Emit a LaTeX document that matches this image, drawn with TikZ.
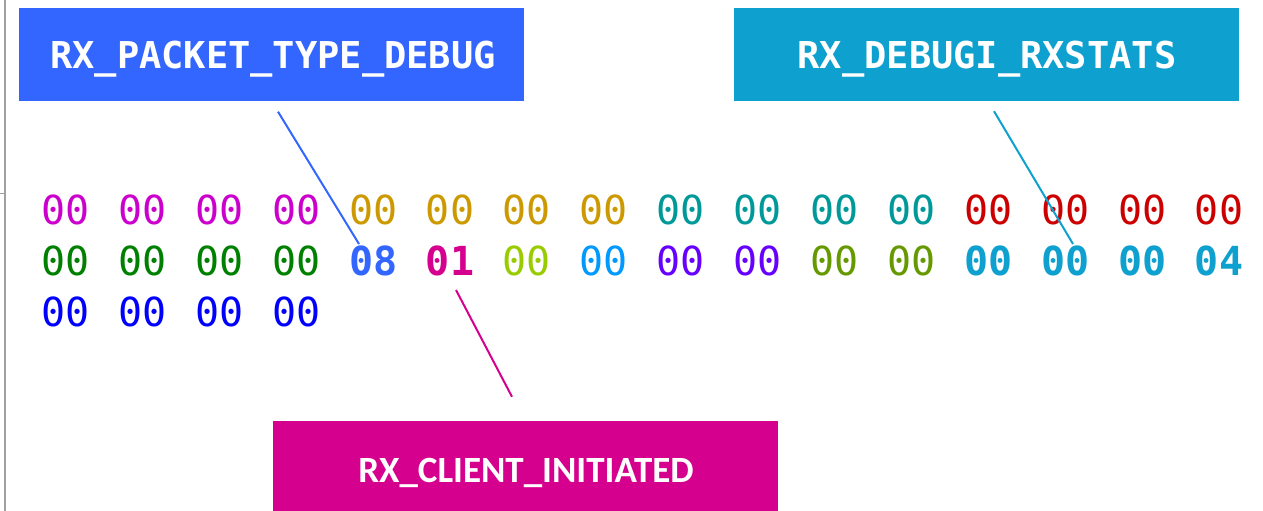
\documentclass[tikz,border=0pt]{standalone}
\usepackage{fontspec}
\newfontfamily\hexfont{DejaVu Sans Mono}
\newfontfamily\tagsans{Carlito}
\usetikzlibrary{calc}

% byte colours
\definecolor{cMag}{RGB}{204,0,204}
\definecolor{cGold}{RGB}{204,153,0}
\definecolor{cTeal}{RGB}{0,153,153}
\definecolor{cRed}{RGB}{204,0,0}
\definecolor{cGreen}{RGB}{0,128,0}
\definecolor{cLime}{RGB}{153,204,0}
\definecolor{cSky}{RGB}{0,153,255}
\definecolor{cViolet}{RGB}{102,0,255}
\definecolor{cOlive}{RGB}{102,153,0}
\definecolor{cBlue}{RGB}{0,0,255}
% field colours
\definecolor{fType}{RGB}{51,102,255}
\definecolor{fStats}{RGB}{14,160,206}
\definecolor{fInit}{RGB}{214,0,143}
\definecolor{frameGray}{RGB}{160,160,160}

\begin{document}
\begin{tikzpicture}[x=1pt,y=-1pt,
  byte/.style={anchor=base, inner sep=0pt, font=\hexfont\fontsize{40}{40}\selectfont},
  boldbyte/.style={anchor=base, inner sep=0pt, font=\hexfont\bfseries\fontsize{40}{40}\selectfont},
  fieldbox/.style={draw=none, inner sep=0pt, minimum width=505pt, minimum height=93pt},
  monotag/.style={anchor=base, inner sep=0pt, text=white, font=\hexfont\bfseries\fontsize{37}{37}\selectfont},
  sanstag/.style={anchor=base, inner sep=0pt, text=white, font=\tagsans\bfseries\fontsize{37}{37}\selectfont},
  pointer/.style={line width=2pt}
]
\useasboundingbox (0,0) rectangle (1263,511);

% page edge
\draw[frameGray, line width=2pt] (5,0) -- (5,511);
\draw[frameGray, line width=1pt] (0,193) -- (5,193);

% field boxes
\node[fieldbox, fill=fType]  (typebox)  at (271,54.5) {};
\node[fieldbox, fill=fStats] (statsbox) at (986,54.5) {};
\node[fieldbox, fill=fInit, minimum height=94pt] (initbox) at (525.5,468) {};
\node[monotag] (typelabel)  at (273,68) {RX\_PACKET\_TYPE\_DEBUG};
\node[monotag] (statslabel) at (987,68) {RX\_DEBUGI\_RXSTATS};
\node[sanstag] (initlabel)  at (526,482) {RX\_CLIENT\_INITIATED};

% byte dump, first row
\foreach \t/\c/\w [count=\i] in {
  00/cMag/byte,00/cMag/byte,00/cMag/byte,00/cMag/byte,
  00/cGold/byte,00/cGold/byte,00/cGold/byte,00/cGold/byte,
  00/cTeal/byte,00/cTeal/byte,00/cTeal/byte,00/cTeal/byte,
  00/cRed/byte,00/cRed/byte,00/cRed/byte,00/cRed/byte}
  \node[\w, text=\c] (ra\i) at ({65.5+76.9*(\i-1)},224.5) {\t};

% second row
\foreach \t/\c/\w [count=\i] in {
  00/cGreen/byte,00/cGreen/byte,00/cGreen/byte,00/cGreen/byte,
  08/fType/boldbyte,01/fInit/boldbyte,00/cLime/byte,00/cSky/byte,
  00/cViolet/byte,00/cViolet/byte,00/cOlive/byte,00/cOlive/byte,
  00/fStats/boldbyte,00/fStats/boldbyte,00/fStats/boldbyte,04/fStats/boldbyte}
  \node[\w, text=\c] (rb\i) at ({65.5+76.9*(\i-1)},275.7) {\t};

% third row
\foreach \i in {1,...,4}
  \node[byte, text=cBlue] (rc\i) at ({65.5+76.9*(\i-1)},326.9) {00};

% pointers from the fields to their bytes
\coordinate (typetip)  at (359,244);
\coordinate (statstip) at (1073,244);
\coordinate (inittip)  at (456,290);
\draw[pointer, fType]  ($(typebox.south)+(7,10.5)$) -- (typetip);
\draw[pointer, fStats] ($(statsbox.south)+(8,10)$) -- (statstip);
\draw[pointer, fInit]  ($(initbox.north)+(-13.5,-24)$) -- (inittip);
\end{tikzpicture}
\end{document}
